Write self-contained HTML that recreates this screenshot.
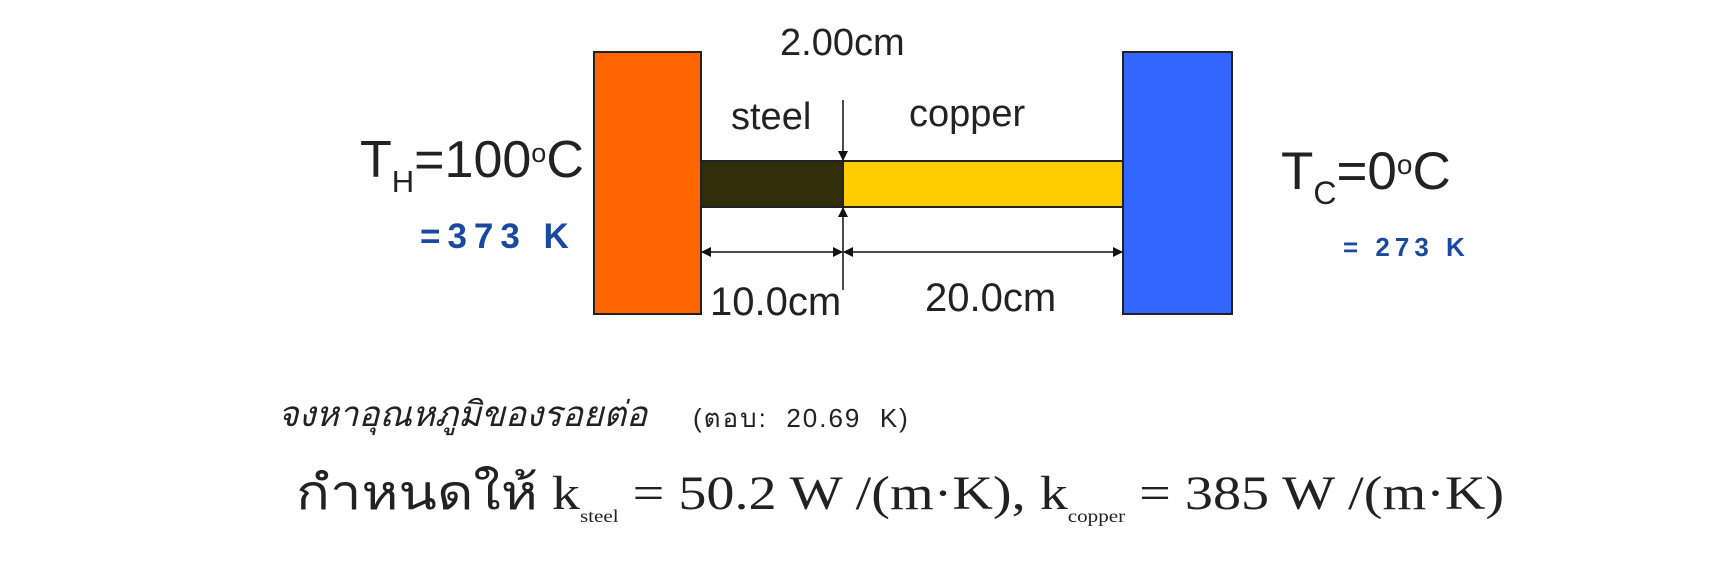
<!DOCTYPE html>
<html><head><meta charset="utf-8"><style>
body{margin:0;width:1712px;height:564px;background:#fff;position:relative;overflow:hidden;font-family:"Liberation Sans","Noto Sans CJK SC",sans-serif}
.t{position:absolute;white-space:nowrap;line-height:1}
</style></head><body>
<svg width="1712" height="564" style="position:absolute;left:0;top:0">
<defs><marker id="a" markerWidth="10" markerHeight="10" refX="9" refY="5" orient="auto" markerUnits="userSpaceOnUse"><path d="M0,0 L10,5 L0,10z" fill="#111"/></marker></defs>
<rect x="594" y="52" width="107" height="262" fill="#ff6600" stroke="#222" stroke-width="2"/>
<rect x="701" y="161" width="142" height="46" fill="#332e0a" stroke="#222" stroke-width="2"/>
<rect x="843" y="161" width="280" height="46" fill="#ffcc00" stroke="#222" stroke-width="2"/>
<rect x="1123" y="52" width="109" height="262" fill="#3366ff" stroke="#222" stroke-width="2"/>
<line x1="843" y1="100" x2="843" y2="160" stroke="#111" stroke-width="1.5" marker-end="url(#a)"/>
<line x1="843" y1="290" x2="843" y2="208" stroke="#111" stroke-width="1.5" marker-end="url(#a)"/>
<line x1="772" y1="252" x2="702" y2="252" stroke="#111" stroke-width="1.5" marker-end="url(#a)"/>
<line x1="772" y1="252" x2="842" y2="252" stroke="#111" stroke-width="1.5" marker-end="url(#a)"/>
<line x1="983" y1="252" x2="844" y2="252" stroke="#111" stroke-width="1.5" marker-end="url(#a)"/>
<line x1="983" y1="252" x2="1122" y2="252" stroke="#111" stroke-width="1.5" marker-end="url(#a)"/>
</svg>
<div class="t" style="left:780px;top:24px;font-size:38px;color:#222">2.00cm</div>
<div class="t" style="left:731px;top:98px;font-size:38px;color:#222">steel</div>
<div class="t" style="left:909px;top:95px;font-size:38px;color:#222">copper</div>
<div class="t" style="left:710px;top:282px;font-size:40px;color:#222">10.0cm</div>
<div class="t" style="left:925px;top:278px;font-size:40px;color:#222">20.0cm</div>
<div class="t" style="left:360px;top:134px;font-size:52px;color:#222">T<span style="font-size:31px;vertical-align:-15px">H</span>=100<span style="font-size:27px;vertical-align:15px">o</span>C</div>
<div class="t" style="left:1281px;top:145px;font-size:53px;color:#222">T<span style="font-size:32px;vertical-align:-15px">C</span>=0<span style="font-size:28px;vertical-align:15px">o</span>C</div>
<div class="t" style="left:420px;top:219px;font-size:35px;color:#1a4aa0;font-weight:bold;letter-spacing:7px">=373 K</div>
<div class="t" style="left:1343px;top:234px;font-size:26px;color:#1a4aa0;font-weight:bold;letter-spacing:5px">= 273 K</div>
<div class="t" style="left:278px;top:397px;font-size:35px;font-style:italic;color:#222">จงหาอุณหภูมิของรอยต่อ</div>
<div class="t" style="left:693px;top:405px;font-size:26px;color:#222;letter-spacing:2px">(ตอบ:&nbsp; 20.69&nbsp; K)</div>
<div class="t" style="left:296px;top:470px;font-size:48px;color:#222;font-family:'Liberation Serif','Noto Serif CJK SC',serif;transform:scaleX(1.17);transform-origin:left top">กำหนดให้ k<span style="font-size:18px;vertical-align:-13px">steel</span> = 50.2 W /(m·K), k<span style="font-size:18px;vertical-align:-13px">copper</span> = 385 W /(m·K)</div>
</body></html>
